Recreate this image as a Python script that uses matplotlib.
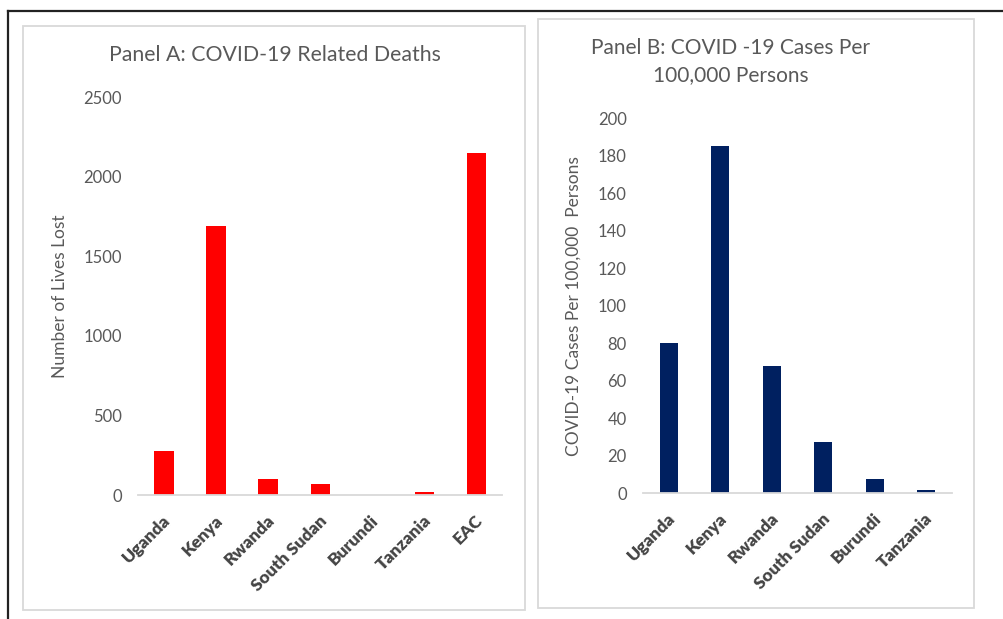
import matplotlib
matplotlib.use("Agg")
import matplotlib.pyplot as plt
from matplotlib.patches import Rectangle
from matplotlib.lines import Line2D
from matplotlib.transforms import ScaledTranslation

plt.rcParams['font.family'] = ['Lato', 'DejaVu Sans']

# Panel A: COVID-19 related deaths
deaths_countries = ["Uganda", "Kenya", "Rwanda", "South Sudan", "Burundi", "Tanzania", "EAC"]
deaths = [278, 1688, 98, 70, 1, 17, 2148]
deaths_yticks = [0, 500, 1000, 1500, 2000, 2500]

# Panel B: COVID-19 cases per 100,000 persons
cases_countries = ["Uganda", "Kenya", "Rwanda", "South Sudan", "Burundi", "Tanzania"]
cases_per_100k = [80, 185, 68, 27, 7.3, 1.6]
cases_yticks = [0, 20, 40, 60, 80, 100, 120, 140, 160, 180, 200]

W, H = 1004, 619
fig = plt.figure(figsize=(W / 100, H / 100), dpi=100)


def fx(x):
    return x / W


def fy(y):
    return 1 - y / H


def axes_box(left, top, right, bottom):
    return [fx(left), fy(bottom), (right - left) / W, (bottom - top) / H]


GREY_TEXT = "#595959"
LABEL_TEXT = "#444444"
FRAME = "#d9d9d9"

# outer frame (top and left edges)
fig.add_artist(Line2D([fx(8), fx(8)], [fy(11), 0], color="#222222", lw=1.6))
fig.add_artist(Line2D([fx(8), 1], [fy(11), fy(11)], color="#222222", lw=1.6))

# chart-area boxes
for (l, t, r, b) in [(23, 26, 525, 610), (538, 19, 974, 608)]:
    fig.add_artist(Rectangle((fx(l), fy(b)), (r - l) / W, (b - t) / H,
                             fill=False, edgecolor=FRAME, lw=1.3))


def style_axes(ax, categories, values, color, width, yticks, ymax, pad_pts):
    x = list(range(len(categories)))
    ax.bar(x, values, width=width, color=color, zorder=2)
    ax.set_xlim(-0.5, len(categories) - 0.5)
    ax.set_ylim(0, ymax)
    ax.set_yticks(yticks)
    ax.set_yticklabels([str(v) for v in yticks])
    ax.set_xticks(x)
    ax.set_xticklabels(categories)
    for s in ("top", "right", "left"):
        ax.spines[s].set_visible(False)
    ax.spines["bottom"].set_color(FRAME)
    ax.spines["bottom"].set_linewidth(1.3)
    ax.tick_params(axis="both", length=0)
    ax.tick_params(axis="y", labelsize=12, labelcolor=GREY_TEXT, pad=pad_pts)
    ax.tick_params(axis="x", pad=16.5)
    offset = ScaledTranslation(0.04, 0, fig.dpi_scale_trans)
    for lab in ax.get_xticklabels():
        lab.set_rotation(45)
        lab.set_rotation_mode("anchor")
        lab.set_ha("right")
        lab.set_va("center")
        lab.set_fontsize(12.5)
        lab.set_fontweight("heavy")
        lab.set_color(LABEL_TEXT)
        lab.set_transform(lab.get_transform() + offset)
    ax.patch.set_alpha(0)


# Panel A
axA = fig.add_axes(axes_box(138, 97.3, 502.3, 495))
style_axes(axA, deaths_countries, deaths, "#ff0000", 0.37, deaths_yticks, 2500, 11.5)
axA.set_ylabel("Number of Lives Lost", fontsize=12.5, color=GREY_TEXT)
axA.yaxis.label.set_va("center")
axA.yaxis.set_label_coords((60 - 138) / 364.3, 0.5)
fig.text(fx(275), fy(55), "Panel A: COVID-19 Related Deaths", ha="center", va="center",
         fontsize=15.3, color=GREY_TEXT)

# Panel B
axB = fig.add_axes(axes_box(643.3, 118.3, 951.7, 493))
style_axes(axB, cases_countries, cases_per_100k, "#002060", 0.35, cases_yticks, 200, 12)
axB.set_ylabel("COVID-19 Cases Per 100,000  Persons", fontsize=12.5, color=GREY_TEXT)
axB.yaxis.label.set_va("center")
axB.yaxis.set_label_coords((574 - 643.3) / 308.4, 0.5)
fig.text(fx(731), fy(48), "Panel B: COVID -19 Cases Per", ha="center", va="center",
         fontsize=15, color=GREY_TEXT)
fig.text(fx(731), fy(75), "100,000 Persons", ha="center", va="center",
         fontsize=15, color=GREY_TEXT)

fig.savefig("out.png", dpi=100, facecolor="white")
